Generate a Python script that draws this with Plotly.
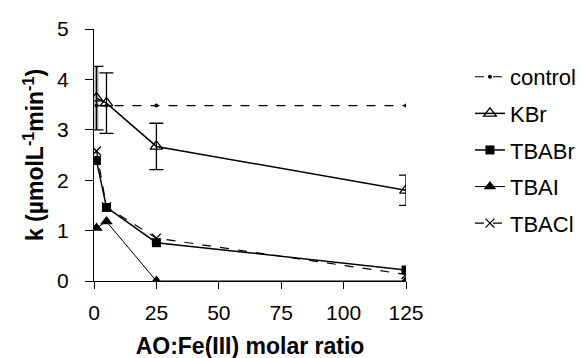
import plotly.graph_objects as go

# data
x_vals = [1, 5, 25, 125]
control = [3.48, 3.48, 3.48, 3.48]
kbr = [3.63, 3.53, 2.67, 1.80]
kbr_err = [0.63, 0.60, 0.46, 0.30]
tbabr = [2.39, 1.46, 0.76, 0.22]
tbai = [1.05, 1.18, 0.0, 0.0]
tbacl = [2.58, 1.47, 0.85, 0.13]

x_ticks = [0, 25, 50, 75, 100, 125]
y_ticks = [0, 1, 2, 3, 4, 5]

FONT = "Arial, Liberation Sans, sans-serif"

fig = go.Figure()

# gray band behind first KBr error bar
fig.add_trace(go.Scatter(
    x=x_vals[:1], y=kbr[:1], mode="markers",
    marker=dict(size=1, color="rgba(0,0,0,0)"),
    error_y=dict(type="data", array=kbr_err[:1], visible=True,
                 color="#b0b0b0", thickness=4, width=0),
    showlegend=False, hoverinfo="skip"))

fig.add_trace(go.Scatter(
    x=x_vals, y=control, name="control", mode="lines+markers",
    line=dict(color="black", width=1.2, dash="dash"),
    marker=dict(symbol="circle", size=4, color="black"),
    legendgroup="a"))

fig.add_trace(go.Scatter(
    x=x_vals, y=kbr, name="KBr", mode="lines+markers",
    line=dict(color="black", width=1.5),
    marker=dict(symbol="triangle-up-open", size=11, color="black",
                line=dict(width=1.3)),
    error_y=dict(type="data", array=kbr_err, visible=True,
                 color="black", thickness=1.3, width=7),
    legendgroup="b"))

fig.add_trace(go.Scatter(
    x=x_vals, y=tbabr, name="TBABr", mode="lines+markers",
    line=dict(color="black", width=1.5),
    marker=dict(symbol="square", size=9, color="black"),
    legendgroup="c"))

fig.add_trace(go.Scatter(
    x=x_vals, y=tbai, name="TBAI", mode="lines+markers",
    line=dict(color="black", width=1),
    marker=dict(symbol="triangle-up", size=11, color="black"),
    legendgroup="d"))

fig.add_trace(go.Scatter(
    x=x_vals, y=tbacl, name="TBACl", mode="lines+markers",
    line=dict(color="black", width=1.2, dash="dash"),
    marker=dict(symbol="x-thin", size=9, color="black",
                line=dict(width=1.3, color="black")),
    legendgroup="e"))

fig.update_layout(
    width=584, height=358,
    margin=dict(l=86, r=185.5, t=21, b=85.3, autoexpand=False),
    paper_bgcolor="white", plot_bgcolor="white",
    font=dict(family=FONT, size=21, color="black"),
    legend=dict(x=1.205, y=0.893, xanchor="left", yanchor="top",
                font=dict(size=22), traceorder="grouped",
                tracegroupgap=5, bgcolor="rgba(0,0,0,0)",
                borderwidth=0, itemwidth=30),
    xaxis=dict(range=[0, 125], tickvals=x_ticks, ticks="outside",
               ticklen=7, tickwidth=1.3, tickcolor="black",
               showline=True, linecolor="black", linewidth=1.3,
               showgrid=False, zeroline=False, ticklabelstandoff=6,
               tickfont=dict(size=21),
               title=dict(text="AO:Fe(III) molar ratio",
                          font=dict(size=23, weight="bold"), standoff=14)),
    yaxis=dict(range=[0, 5], tickvals=y_ticks, ticks="outside",
               ticklen=8, tickwidth=1.3, tickcolor="black",
               showline=True, linecolor="black", linewidth=1.3,
               showgrid=False, zeroline=False, ticklabelstandoff=12,
               tickfont=dict(size=21),
               title=dict(text="k (\u00b5molL<sup>-1</sup>min<sup>-1</sup>)",
                          font=dict(size=23, weight="bold"), standoff=6)),
)

fig.write_html("out.html")
